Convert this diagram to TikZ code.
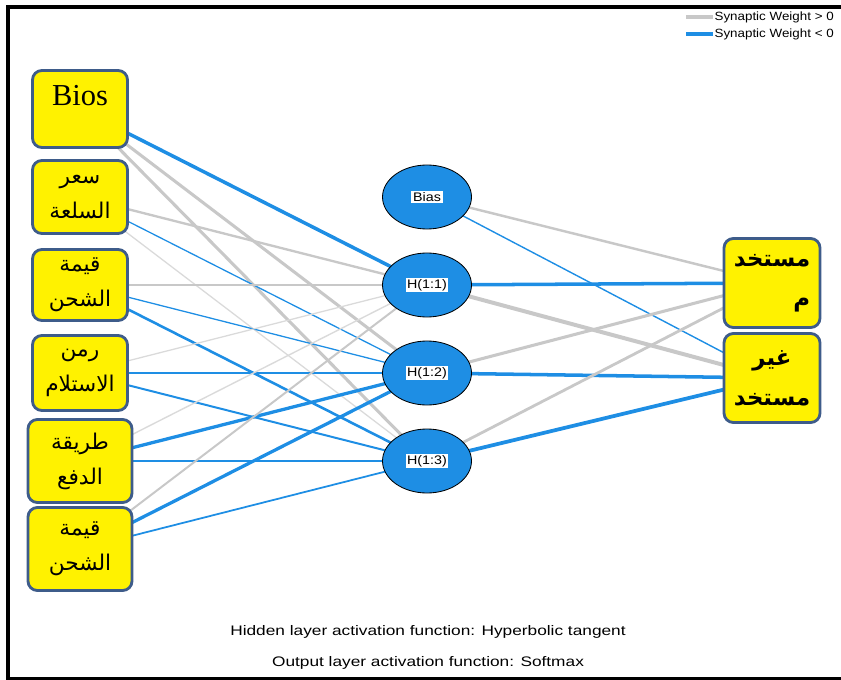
\documentclass[tikz,border=0pt]{standalone}
\usepackage{fontspec}
\setmainfont{Liberation Serif}
\setsansfont{Liberation Sans}
\newfontfamily\arabicfont[Script=Arabic]{DejaVu Sans}
\TeXXeTstate=1
\usetikzlibrary{shapes.geometric,backgrounds}
\definecolor{wgtgray}{RGB}{200,200,200}
\definecolor{wgtlight}{RGB}{218,218,218}
\definecolor{wgtblue}{RGB}{30,142,228}
\definecolor{boxedge}{RGB}{62,92,138}
\newcommand{\artxt}[1]{\beginR#1\endR}
\begin{document}
\begin{tikzpicture}[x=0.03cm,y=-0.03cm,
  inbox/.style={draw=boxedge,line width=2.4pt,fill=yellow,rounded corners=8pt,
    minimum width=2.85cm,align=center,inner sep=1pt,
    font=\arabicfont\fontsize{18.5}{30}\selectfont},
  outbox/.style={inbox,minimum width=2.88cm,minimum height=2.67cm,
    font=\arabicfont\bfseries\fontsize{19.5}{34}\selectfont},
  hid/.style={ellipse,draw=black,line width=0.7pt,fill=wgtblue,
    minimum width=2.67cm,minimum height=1.92cm},
  hlab/.style={fill=white,inner sep=1.2pt,font=\sffamily\fontsize{10.6}{12}\selectfont,
    xscale=1.15,transform shape},
  sans/.style={font=\sffamily\fontsize{10.2}{12}\selectfont,xscale=1.12,transform shape},
  note/.style={font=\sffamily\fontsize{11.8}{14}\selectfont,xscale=1.25,transform shape},
  posw/.style={wgtgray,line width=#1},
  lightw/.style={wgtlight,line width=#1},
  negw/.style={wgtblue,line width=#1}]
 \useasboundingbox (0,0) rectangle (841,680);
 \draw[line width=3.4pt] (850,7) -- (8,7) -- (8,679) -- (850,679);

 \node[inbox,minimum height=2.31cm,font=\fontsize{26}{30}\selectfont] (in1) at (80,109) {\raisebox{24pt}{Bios}};
 \node[inbox,minimum height=2.19cm] (in2) at (80,197) {\artxt{سعر}\\\artxt{السلعة}};
 \node[inbox,minimum height=2.13cm] (in3) at (80,285) {\artxt{قيمة}\\\artxt{الشحن}};
 \node[inbox,minimum height=2.25cm] (in4) at (80,373) {\artxt{رمن}\\\artxt{الاستلام}};
 \node[inbox,minimum height=2.49cm,minimum width=3.12cm] (in5) at (80,461) {\artxt{طريقة}\\\artxt{الدفع}};
 \node[inbox,minimum height=2.49cm,minimum width=3.12cm] (in6) at (80,549) {\artxt{قيمة}\\\artxt{الشحن}};

 \node[hid,label={[hlab]center:Bias}] (bias) at (427,197) {};
 \node[hid,label={[hlab]center:H(1:1)}] (h1) at (427,285) {};
 \node[hid,label={[hlab]center:H(1:2)}] (h2) at (427,373) {};
 \node[hid,label={[hlab]center:H(1:3)}] (h3) at (427,461) {};

 \node[outbox,align=right] (o1) at (772,283) {\artxt{مستخد}\\\artxt{م}};
 \node[outbox] (o2) at (772,378) {\artxt{غير}\\\artxt{مستخد}};

 \begin{scope}[on background layer]
  \draw[negw=3pt] (in1.center) -- (h1.center);
  \draw[posw=2.6pt] (in1.center) -- (h2.center);
  \draw[posw=2.6pt] (in1.center) -- (h3.center);
  \draw[posw=2pt] (in2.center) -- (h1.center);
  \draw[negw=1.1pt] (in2.center) -- (h2.center);
  \draw[lightw=1.1pt] (in2.center) -- (h3.center);
  \draw[posw=2pt] (in3.center) -- (h1.center);
  \draw[negw=1.1pt] (in3.center) -- (h2.center);
  \draw[negw=2.2pt] (in3.center) -- (h3.center);
  \draw[lightw=1.1pt] (in4.center) -- (h1.center);
  \draw[negw=1.7pt] (in4.center) -- (h2.center);
  \draw[negw=1.7pt] (in4.center) -- (h3.center);
  \draw[lightw=1.2pt] (in5.center) -- (h1.center);
  \draw[negw=2.8pt] (in5.center) -- (h2.center);
  \draw[negw=2.4pt] (in5.center) -- (h3.center);
  \draw[posw=1.7pt] (in6.center) -- (h1.center);
  \draw[negw=2.8pt] (in6.center) -- (h2.center);
  \draw[negw=1.5pt] (in6.center) -- (h3.center);
  \draw[posw=2.1pt] (bias.center) -- (o1.center);
  \draw[negw=1.2pt] (bias.center) -- (o2.center);
  \draw[negw=3pt] (h1.center) -- (o1.center);
  \draw[posw=3.4pt] (h1.center) -- (o2.center);
  \draw[posw=2.6pt] (h2.center) -- (o1.center);
  \draw[negw=3pt] (h2.center) -- (o2.center);
  \draw[posw=2.4pt] (h3.center) -- (o1.center);
  \draw[negw=3.2pt] (h3.center) -- (o2.center);
 \end{scope}

 \node[sans,anchor=west,inner sep=1pt] (legpos) at (713,17) {Synaptic Weight > 0};
 \node[sans,anchor=west,inner sep=1pt] (legneg) at (713,34) {Synaptic Weight < 0};
 \draw[posw=3.4pt] (legpos.west) -- ++(-27,0);
 \draw[negw=3.4pt] (legneg.west) -- ++(-27,0);

 \node[note] (hidfn) at (428,632) {Hidden layer activation function: Hyperbolic tangent};
 \node[note] (outfn) at (428,663) {Output layer activation function: Softmax};
\end{tikzpicture}
\end{document}
